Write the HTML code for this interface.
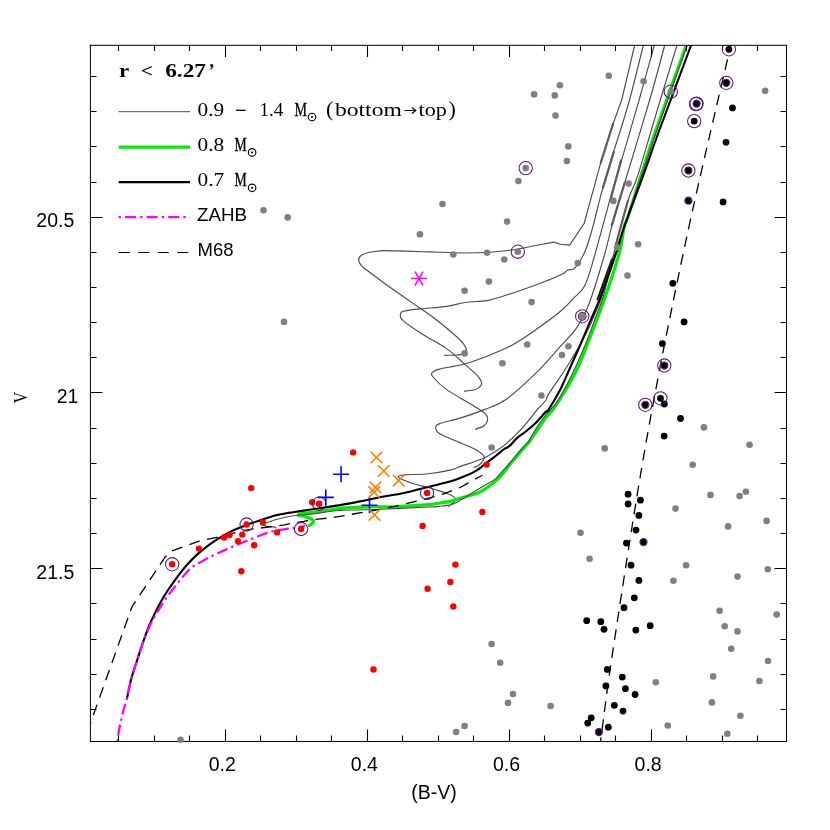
<!DOCTYPE html>
<html><head><meta charset="utf-8"><title>CMD</title>
<style>html,body{margin:0;padding:0;background:#fff;width:830px;height:830px;overflow:hidden}</style>
</head><body>
<svg width="830" height="830" viewBox="0 0 830 830" style="position:absolute;left:0;top:0;will-change:transform">
<defs><clipPath id="c"><rect x="90.5" y="45" width="696" height="696.5"/></clipPath></defs>
<rect width="830" height="830" fill="#fff"/>
<g clip-path="url(#c)">
<g fill="none" stroke="#4c4c4c" stroke-width="1.15" stroke-linejoin="round">
<path d="M444.2 355.4C446.2 355.3 452.8 355.2 456.0 355.0C459.2 354.8 461.7 354.6 463.5 353.9C465.3 353.2 466.6 352.7 466.6 351.0C466.6 349.3 465.6 346.6 463.5 343.8C461.4 341.0 458.7 338.4 453.9 334.2C449.1 330.0 441.8 323.9 434.6 318.5C427.4 313.1 418.5 307.2 410.5 301.6C402.5 296.0 393.1 289.7 386.4 284.8C379.6 279.9 374.0 275.5 370.0 272.5C366.0 269.5 364.2 268.7 362.3 266.7C360.4 264.7 359.0 262.2 358.7 260.4C358.4 258.6 359.3 257.2 360.5 256.0C361.7 254.8 363.6 253.9 366.0 253.2C368.4 252.4 372.0 251.9 375.0 251.5C378.0 251.1 379.8 250.7 384.0 250.6C388.2 250.5 393.6 250.7 400.0 250.9C406.4 251.1 415.8 251.5 422.5 251.7C429.2 251.9 432.9 252.0 440.0 252.2C447.1 252.4 456.7 253.0 465.0 253.0C473.3 253.0 482.2 252.7 490.0 252.2C497.8 251.7 504.0 251.2 512.0 250.0C520.0 248.8 531.2 246.3 538.2 245.0C545.2 243.7 551.3 242.6 553.9 242.1"/>
<path d="M464.0 391.3C465.5 391.1 470.7 390.5 473.0 390.0C475.3 389.5 476.6 389.5 478.0 388.4C479.4 387.3 481.6 385.6 481.6 383.6C481.6 381.6 481.0 379.7 478.0 376.3C475.0 372.9 468.7 367.7 463.5 363.1C458.3 358.5 453.4 353.4 446.6 348.6C439.8 343.8 429.7 338.8 422.5 334.2C415.3 329.6 407.0 324.1 403.3 320.9C399.6 317.7 400.4 316.5 400.4 314.9C400.4 313.3 400.0 312.3 403.3 311.3C406.6 310.3 412.9 309.7 420.1 308.9C427.3 308.1 439.1 307.5 446.6 306.4C454.1 305.3 458.1 303.5 465.0 302.5C471.9 301.5 480.3 301.9 488.2 300.4C496.1 298.8 504.3 295.8 512.3 293.2C520.3 290.6 528.4 287.8 536.4 284.8C544.4 281.8 555.2 277.6 560.5 275.1C565.8 272.6 565.6 271.2 568.0 270.0C570.4 268.8 572.1 270.9 574.9 267.9C577.7 264.9 581.8 258.5 584.6 252.2C587.5 245.9 589.0 240.7 592.0 230.0C595.0 219.3 599.2 200.8 602.8 187.8C606.4 174.8 611.0 159.8 613.4 152.1C615.8 144.4 614.2 150.2 616.9 141.5C619.6 132.8 625.1 116.1 629.5 100.0C633.9 83.9 641.1 54.2 643.4 45.0"/>
<path d="M475.0 429.3C476.5 428.7 481.9 427.3 484.0 425.7C486.1 424.1 487.4 421.7 487.6 419.7C487.8 417.7 488.0 416.3 485.2 413.7C482.4 411.1 477.1 408.0 470.7 404.0C464.3 400.0 452.8 394.0 446.6 389.6C440.4 385.2 435.8 380.3 433.4 377.5C431.0 374.7 431.2 374.1 432.2 372.7C433.2 371.3 434.2 370.5 439.4 369.1C444.6 367.7 455.4 366.5 463.5 364.3C471.6 362.1 480.1 359.0 488.2 355.8C496.3 352.6 504.3 349.4 512.3 345.0C520.3 340.6 528.4 334.9 536.4 329.3C544.4 323.7 554.5 316.3 560.5 311.3C566.5 306.3 568.5 303.4 572.5 299.2C576.5 295.0 581.0 293.0 584.6 286.0C588.2 279.0 590.1 270.9 594.2 257.0C598.3 243.1 604.7 218.3 609.2 202.3C613.7 186.3 616.4 177.9 621.4 160.8C626.4 143.8 633.6 119.3 639.1 100.0C644.6 80.7 651.8 54.2 654.3 45.0"/>
<path d="M473.5 467.5C474.2 467.2 476.3 466.8 477.7 465.9C479.1 465.0 480.8 463.6 481.9 462.3C483.0 461.0 484.1 459.3 484.3 458.1C484.5 456.9 484.2 456.3 483.1 455.1C482.0 453.9 480.2 452.3 477.7 450.8C475.2 449.3 472.1 447.8 468.1 446.0C464.1 444.2 458.3 442.1 453.6 440.0C448.9 437.9 442.8 435.8 439.8 433.7C436.8 431.6 435.7 429.4 435.7 427.7C435.7 426.0 435.7 425.2 439.8 423.6C443.9 422.0 452.8 420.4 460.2 418.1C467.6 415.8 476.7 412.7 484.3 409.6C491.9 406.5 497.3 405.6 506.0 399.5C514.7 393.4 527.3 381.6 536.4 372.7C545.5 363.8 553.7 353.8 560.5 346.2C567.3 338.6 572.5 334.1 577.3 326.9C582.1 319.7 585.0 314.4 589.4 302.8C593.8 291.2 600.1 269.9 603.9 257.0C607.7 244.1 608.6 237.7 612.1 225.4C615.6 213.1 618.3 203.9 624.6 183.0C630.9 162.1 643.0 123.0 649.7 100.0C656.4 77.0 662.3 54.2 664.8 45.0"/>
<path d="M448.1 506.6C448.4 506.3 449.0 505.8 450.0 505.0C451.0 504.2 453.3 503.0 454.2 502.0C455.1 501.0 455.5 499.9 455.4 499.0C455.3 498.1 454.5 497.3 453.6 496.6C452.7 495.9 450.8 495.2 450.0 494.8C449.2 494.4 450.3 494.8 448.7 494.2C447.1 493.6 443.6 492.2 440.2 491.1C436.8 490.0 432.2 488.6 428.2 487.5C424.2 486.4 420.1 485.7 416.1 484.5C412.1 483.3 407.1 481.6 404.1 480.3C401.1 479.0 398.1 477.6 398.1 476.7C398.1 475.8 399.1 475.4 404.1 474.9C409.1 474.4 420.6 474.5 428.2 473.7C435.8 472.9 444.4 471.4 450.0 470.1C455.6 468.8 458.0 467.3 462.0 465.9C466.0 464.5 470.1 463.2 474.1 461.7C478.1 460.2 482.1 458.9 486.1 456.9C490.1 454.9 495.2 451.5 498.2 449.6C501.2 447.7 502.2 447.0 504.2 445.4C506.2 443.8 508.6 441.4 510.2 440.0C511.8 438.6 511.1 439.5 513.5 437.0C515.9 434.5 521.0 429.5 524.8 425.1C528.6 420.7 532.9 414.8 536.4 410.6C539.9 406.4 544.0 402.7 546.0 400.0C548.0 397.3 544.8 400.1 548.4 394.4C552.0 388.6 561.7 375.1 567.7 365.5C573.7 355.9 579.8 345.9 584.6 336.6C589.4 327.4 592.6 320.1 596.6 310.0C600.6 299.9 605.5 287.3 608.7 276.3C611.9 265.3 612.8 256.8 616.0 244.2C619.2 231.6 624.4 212.0 627.9 200.8C631.4 189.6 633.3 189.0 637.2 177.2C641.1 165.4 647.5 142.9 651.4 130.0C655.2 117.1 656.0 114.2 660.3 100.0C664.6 85.8 674.2 54.2 677.0 45.0"/>
<polyline points="553.9,242.1 560.0,244.3 569.6,245.1 584.1,223.5 600.8,162.7 613.0,124.0 621.7,100.0 634.7,45.0"/>
</g>
<g fill="none" stroke="#5c5c5c" stroke-width="2.2" stroke-linecap="round">
<polyline points="613.0,124.0 600.8,162.7"/>
<polyline points="613.9,151.7 603.0,187.8"/>
<polyline points="621.1,160.4 610.2,200.8"/>
<polyline points="624.7,182.8 611.7,225.4"/>
<polyline points="627.9,200.8 616.0,244.2"/>
<polyline points="624.7,225.4 618.2,250.0"/>
</g>
<path d="M308.1 526.1C308.8 525.7 311.4 524.6 312.3 523.7C313.2 522.8 313.7 521.6 313.3 520.7C312.9 519.8 311.5 519.0 309.9 518.3C308.3 517.6 305.8 516.9 303.9 516.3C302.0 515.7 297.0 515.4 298.4 514.7C299.8 514.0 308.0 513.0 312.3 512.3C316.6 511.6 318.6 511.4 324.3 510.7C330.0 509.9 338.7 508.4 346.4 507.8C354.1 507.2 362.5 507.0 370.5 506.8C378.5 506.6 389.0 507.0 394.6 506.9C400.2 506.8 398.5 506.6 404.1 506.2C409.7 505.8 422.2 505.1 428.2 504.6C434.2 504.1 436.6 503.5 440.2 503.0C443.8 502.5 446.4 502.3 450.0 501.4C453.6 500.5 458.0 499.0 462.0 497.8C466.0 496.6 470.7 495.4 474.1 494.2C477.5 493.0 479.9 492.0 482.5 490.6C485.1 489.2 487.2 487.8 489.8 485.8C492.4 483.8 495.8 480.9 498.2 478.6C500.6 476.3 502.2 474.3 504.2 471.9C506.2 469.5 508.2 466.6 510.2 464.1C512.2 461.6 514.3 459.3 516.3 456.9C518.3 454.5 520.3 451.9 522.3 449.6C524.3 447.3 525.8 446.2 528.3 443.0C530.8 439.8 534.0 434.8 537.0 430.5C540.0 426.2 543.4 420.7 546.0 417.3C548.6 413.9 549.4 414.3 552.5 410.0C555.6 405.7 560.7 398.3 564.8 391.5C568.9 384.7 573.4 376.9 577.1 369.0C580.9 361.1 583.9 352.9 587.3 344.4C590.7 335.9 594.5 326.0 597.6 317.8C600.7 309.6 603.1 303.2 605.8 295.3C608.5 287.4 611.6 278.2 614.0 270.7C616.4 263.2 618.8 255.3 620.1 250.2C621.4 245.1 621.3 244.1 622.0 240.0C622.7 235.9 623.5 229.3 624.5 225.4C625.5 221.5 625.1 225.4 628.0 216.7C630.9 208.0 637.0 187.8 641.7 173.4C646.4 159.0 648.5 151.4 656.0 130.0C663.5 108.6 681.3 59.2 686.4 45.0" fill="none" stroke="#00ee00" stroke-width="3.2" stroke-linejoin="round"/>
<path d="M275.5 528.6C275.4 528.4 276.5 527.5 274.9 527.1C273.3 526.7 267.8 526.5 265.9 526.1C263.9 525.7 263.5 525.3 263.2 524.9C262.9 524.5 262.0 524.6 264.1 523.7C266.2 522.8 272.1 520.7 276.1 519.5C280.1 518.3 284.6 517.4 288.2 516.7C291.8 516.0 293.8 515.8 297.8 515.3C301.8 514.8 305.3 514.7 312.3 513.9C319.3 513.1 328.7 511.3 340.0 510.5C351.3 509.7 365.3 509.8 380.0 509.2C394.7 508.6 418.2 507.5 428.2 507.0C438.2 506.5 437.0 506.5 440.2 506.2C443.4 505.9 445.9 505.6 447.5 505.4C449.1 505.2 448.6 505.4 450.0 505.0C451.4 504.6 454.0 503.7 456.0 502.7C458.0 501.7 459.0 500.8 462.0 499.0C465.0 497.2 470.1 494.2 474.1 491.8C478.1 489.4 482.5 486.8 486.1 484.6C489.7 482.4 493.2 480.7 495.8 478.6C498.4 476.5 499.8 474.1 501.8 471.9C503.8 469.7 505.8 467.6 507.8 465.3C509.8 463.0 511.9 460.5 513.9 458.1C515.9 455.7 517.9 453.1 519.9 450.8C521.9 448.5 524.3 446.0 525.9 444.2C527.5 442.4 527.8 442.7 529.5 440.0C531.2 437.3 533.6 432.2 536.4 428.0C539.1 423.8 542.7 418.7 546.0 414.5C549.3 410.3 552.2 409.0 556.3 402.9C560.3 396.8 565.8 387.0 570.3 378.0C574.8 369.0 579.3 359.0 583.5 349.0C587.7 339.0 591.9 327.3 595.4 318.0C598.9 308.7 601.5 302.8 604.2 293.0C607.0 283.2 609.6 266.7 611.9 259.5C614.2 252.3 616.1 255.7 618.2 250.0C620.3 244.3 620.5 238.7 624.7 225.4C628.9 212.1 638.0 185.9 643.4 170.0C648.8 154.1 649.7 150.8 657.0 130.0C664.3 109.2 682.2 59.2 687.3 45.0" fill="none" stroke="#4c4c4c" stroke-width="1.15" stroke-linejoin="round"/>
<polyline points="90.1,724.1 132.0,606.7 165.3,556.8 171.5,551.1 198.4,541.4 224.9,535.4 247.2,529.8 256.3,528.6 284.6,524.9 294.2,522.8 303.9,521.3 313.5,519.5 323.1,518.6 333.4,517.5 346.4,515.2 370.5,511.0 394.6,506.4 404.1,504.2 423.4,499.6 441.4,494.8 460.1,487.5 476.4,478.5 482.4,475.2" fill="none" stroke="#000" stroke-width="1.3" stroke-dasharray="11 7.4" stroke-dashoffset="8.7"/>
<path d="M730.8 45.0C723.2 78.3 699.0 179.1 685.0 245.0C671.0 310.9 658.3 373.9 646.5 440.2C634.7 506.5 621.8 592.4 614.1 642.6C606.4 692.8 602.8 725.0 600.5 741.5" fill="none" stroke="#000" stroke-width="1.3" stroke-dasharray="10.7 7.45" stroke-dashoffset="3.35"/>
<path d="M127.0 698.3C127.7 695.2 129.4 685.9 131.1 679.5C132.8 673.1 134.9 667.0 137.1 660.2C139.3 653.4 142.1 644.8 144.3 638.6C146.5 632.5 147.2 629.9 150.2 623.3C153.2 616.7 158.3 606.2 162.3 599.2C166.3 592.2 170.3 586.7 174.3 581.1C178.3 575.5 182.4 570.1 186.4 565.5C190.4 560.9 194.4 557.0 198.4 553.4C202.4 549.8 206.5 546.7 210.5 543.8C214.5 540.9 218.5 538.4 222.5 536.1C226.5 533.8 230.6 531.6 234.6 529.8C238.6 527.9 243.7 526.1 246.6 525.0C249.5 523.9 249.1 524.1 252.0 523.1C254.9 522.1 260.1 520.2 264.1 518.9C268.1 517.6 272.1 516.3 276.1 515.3C280.1 514.3 284.2 513.6 288.2 512.9C292.2 512.2 296.2 511.7 300.2 511.1C304.2 510.5 308.3 509.9 312.3 509.3C316.3 508.7 319.7 508.2 324.3 507.5C328.9 506.8 334.1 506.1 340.0 505.1C345.9 504.1 353.3 502.7 360.0 501.4C366.7 500.1 372.6 498.6 380.0 497.2C387.4 495.8 396.1 494.7 404.1 493.0C412.1 491.3 420.6 488.8 428.2 486.9C435.8 485.0 444.4 483.2 450.0 481.6C455.6 480.0 458.0 478.9 462.0 477.3C466.0 475.7 470.9 473.6 474.1 471.9C477.3 470.2 479.3 468.6 481.3 467.1C483.3 465.6 484.3 464.3 486.1 462.9C487.9 461.5 490.2 460.2 492.2 458.7C494.2 457.2 496.2 455.5 498.2 453.9C500.2 452.3 502.6 450.1 504.2 449.0C505.8 447.9 506.6 448.0 507.8 447.2C509.0 446.4 510.2 445.4 511.4 444.2C512.6 443.0 514.1 441.1 515.1 440.0C516.1 438.9 515.6 439.1 517.5 437.6C519.4 436.1 523.6 433.4 526.7 430.8C529.9 428.2 533.2 425.4 536.4 422.2C539.6 419.0 544.0 413.6 546.0 411.6C548.0 409.6 546.0 413.7 548.4 410.0C550.8 406.3 556.6 396.7 560.3 389.5C564.0 382.3 567.0 374.5 570.4 367.0C573.8 359.5 577.1 352.2 580.5 344.4C583.9 336.5 587.6 327.4 590.8 319.9C594.0 312.4 596.8 306.6 599.6 299.4C602.4 292.2 605.4 283.5 607.8 276.9C610.2 270.2 612.3 264.6 614.0 259.5C615.7 254.4 616.9 249.9 618.1 246.1C619.3 242.3 619.4 241.4 621.0 236.5C622.6 231.6 624.1 227.2 627.9 216.7C631.7 206.2 638.8 187.8 644.0 173.4C649.2 159.0 651.5 151.4 659.4 130.0C667.3 108.6 685.9 59.2 691.2 45.0" fill="none" stroke="#000" stroke-width="2.1" stroke-linejoin="round"/>
<polyline id="mag" points="117.3,741.5 119.0,730.1 122.7,713.3 127.0,698.3 131.1,679.5 137.1,660.2 144.3,638.6 150.5,624.3 155.8,614.4 166.4,597.6 175.1,586.5 181.8,577.8 191.4,567.2 194.3,565.7 208.8,557.6 228.7,548.3 248.3,540.2 268.0,532.5 276.1,530.6 288.8,528.6 296.5,527.5 305.0,526.1" fill="none" stroke="#ff00ff" stroke-width="2.3" stroke-linejoin="round" stroke-dasharray="11.1 4 2.4 4.1" stroke-dashoffset="15.6"/>
<polyline points="611.9,259.5 597.6,299.4" fill="none" stroke="#1a1a1a" stroke-width="2.2" stroke-linecap="round"/>
</g>
<path d="M118.5 45.0v6M118.5 741.5v-6M154.5 45.0v6M154.5 741.5v-6M189.5 45.0v6M189.5 741.5v-6M225.5 45.0v12M225.5 741.5v-12M260.5 45.0v6M260.5 741.5v-6M296.5 45.0v6M296.5 741.5v-6M331.5 45.0v6M331.5 741.5v-6M367.5 45.0v12M367.5 741.5v-12M402.5 45.0v6M402.5 741.5v-6M438.5 45.0v6M438.5 741.5v-6M473.5 45.0v6M473.5 741.5v-6M509.5 45.0v12M509.5 741.5v-12M544.5 45.0v6M544.5 741.5v-6M580.5 45.0v6M580.5 741.5v-6M615.5 45.0v6M615.5 741.5v-6M651.5 45.0v12M651.5 741.5v-12M686.5 45.0v6M686.5 741.5v-6M722.5 45.0v6M722.5 741.5v-6M757.5 45.0v6M757.5 741.5v-6M90.5 76.5h6M786.5 76.5h-6M90.5 111.5h6M786.5 111.5h-6M90.5 146.5h6M786.5 146.5h-6M90.5 182.5h6M786.5 182.5h-6M90.5 217.5h12M786.5 217.5h-12M90.5 252.5h6M786.5 252.5h-6M90.5 287.5h6M786.5 287.5h-6M90.5 322.5h6M786.5 322.5h-6M90.5 357.5h6M786.5 357.5h-6M90.5 392.5h12M786.5 392.5h-12M90.5 428.5h6M786.5 428.5h-6M90.5 463.5h6M786.5 463.5h-6M90.5 498.5h6M786.5 498.5h-6M90.5 533.5h6M786.5 533.5h-6M90.5 568.5h12M786.5 568.5h-12M90.5 603.5h6M786.5 603.5h-6M90.5 639.5h6M786.5 639.5h-6M90.5 674.5h6M786.5 674.5h-6M90.5 709.5h6M786.5 709.5h-6" stroke="#000" stroke-width="1.1" fill="none"/>
<path d="M90.4 44.8V742M89.9 45.3H787M786.5 44.8V742M89.9 741.5H787" fill="none" stroke="#000" stroke-width="1"/>
<g fill="#808080">
<circle cx="263.5" cy="210.3" r="3.3"/>
<circle cx="287.7" cy="217.4" r="3.3"/>
<circle cx="442.5" cy="204" r="3.3"/>
<circle cx="419.9" cy="234.4" r="3.3"/>
<circle cx="608.8" cy="75.8" r="3.3"/>
<circle cx="559.9" cy="85.2" r="3.3"/>
<circle cx="534.1" cy="94.4" r="3.3"/>
<circle cx="554.8" cy="95.4" r="3.3"/>
<circle cx="643.6" cy="81.2" r="3.3"/>
<circle cx="670.8" cy="91.7" r="3.3"/>
<circle cx="555.5" cy="115.6" r="3.3"/>
<circle cx="568.3" cy="146.4" r="3.3"/>
<circle cx="566.9" cy="161.1" r="3.3"/>
<circle cx="525.7" cy="168.1" r="3.3"/>
<circle cx="518.4" cy="181.1" r="3.3"/>
<circle cx="628.6" cy="183.6" r="3.3"/>
<circle cx="613.4" cy="200.9" r="3.3"/>
<circle cx="507.1" cy="221.6" r="3.3"/>
<circle cx="638.1" cy="244.3" r="3.3"/>
<circle cx="765.1" cy="90.8" r="3.3"/>
<circle cx="284" cy="321.9" r="3.3"/>
<circle cx="453.3" cy="254.6" r="3.3"/>
<circle cx="487" cy="252.7" r="3.3"/>
<circle cx="517.8" cy="251.7" r="3.3"/>
<circle cx="504.3" cy="259.5" r="3.3"/>
<circle cx="577.8" cy="263.1" r="3.3"/>
<circle cx="488.9" cy="281.6" r="3.3"/>
<circle cx="464.6" cy="290.8" r="3.3"/>
<circle cx="531.6" cy="302.1" r="3.3"/>
<circle cx="582.2" cy="316.3" r="3.3"/>
<circle cx="627.5" cy="275.6" r="3.3"/>
<circle cx="617.1" cy="247.4" r="3.3"/>
<circle cx="527.2" cy="344.5" r="3.3"/>
<circle cx="568.4" cy="346.2" r="3.3"/>
<circle cx="561.9" cy="355.1" r="3.3"/>
<circle cx="502.4" cy="363.3" r="3.3"/>
<circle cx="464.6" cy="353.4" r="3.3"/>
<circle cx="541.4" cy="395.6" r="3.3"/>
<circle cx="703.9" cy="427.4" r="3.3"/>
<circle cx="749.6" cy="444.7" r="3.3"/>
<circle cx="491.6" cy="447.5" r="3.3"/>
<circle cx="580.5" cy="532.8" r="3.3"/>
<circle cx="589.6" cy="558.8" r="3.3"/>
<circle cx="604.7" cy="448.4" r="3.3"/>
<circle cx="692.7" cy="464.8" r="3.3"/>
<circle cx="710.5" cy="494.9" r="3.3"/>
<circle cx="739.6" cy="496.1" r="3.3"/>
<circle cx="745.9" cy="491.7" r="3.3"/>
<circle cx="675.5" cy="508.6" r="3.3"/>
<circle cx="728.1" cy="526.4" r="3.3"/>
<circle cx="766.6" cy="520.9" r="3.3"/>
<circle cx="686.1" cy="565.2" r="3.3"/>
<circle cx="673.4" cy="580.7" r="3.3"/>
<circle cx="737.5" cy="576.6" r="3.3"/>
<circle cx="767.8" cy="569.3" r="3.3"/>
<circle cx="719.6" cy="610.8" r="3.3"/>
<circle cx="776.7" cy="614.6" r="3.3"/>
<circle cx="724.7" cy="626.2" r="3.3"/>
<circle cx="737.5" cy="631.4" r="3.3"/>
<circle cx="731.2" cy="648.7" r="3.3"/>
<circle cx="768.1" cy="661" r="3.3"/>
<circle cx="713.1" cy="676.4" r="3.3"/>
<circle cx="759.4" cy="681" r="3.3"/>
<circle cx="655.8" cy="682.2" r="3.3"/>
<circle cx="711.9" cy="702.4" r="3.3"/>
<circle cx="740.4" cy="715.7" r="3.3"/>
<circle cx="667.8" cy="725.5" r="3.3"/>
<circle cx="727.3" cy="733.7" r="3.3"/>
<circle cx="491.6" cy="644.1" r="3.3"/>
<circle cx="500.2" cy="662.7" r="3.3"/>
<circle cx="513" cy="694" r="3.3"/>
<circle cx="508" cy="702.9" r="3.3"/>
<circle cx="550.6" cy="706" r="3.3"/>
<circle cx="464.6" cy="726" r="3.3"/>
<circle cx="456.1" cy="732" r="3.3"/>
<circle cx="180.5" cy="739.8" r="3.3"/>
</g><g fill="#000">
<circle cx="728.9" cy="49.3" r="3.4"/>
<circle cx="726.3" cy="82.8" r="3.4"/>
<circle cx="696.6" cy="103.6" r="3.4"/>
<circle cx="694.2" cy="121.1" r="3.4"/>
<circle cx="732.5" cy="107.9" r="3.4"/>
<circle cx="726" cy="142.3" r="3.4"/>
<circle cx="688.4" cy="170.5" r="3.4"/>
<circle cx="688.4" cy="200.7" r="3.4"/>
<circle cx="723.1" cy="201.9" r="3.4"/>
<circle cx="672.8" cy="283.3" r="3.4"/>
<circle cx="684.1" cy="321.9" r="3.4"/>
<circle cx="662.4" cy="343.6" r="3.4"/>
<circle cx="664.3" cy="365.5" r="3.4"/>
<circle cx="660.5" cy="398.3" r="3.4"/>
<circle cx="664.3" cy="404" r="3.4"/>
<circle cx="645.3" cy="404.8" r="3.4"/>
<circle cx="680.5" cy="418.5" r="3.4"/>
<circle cx="664.1" cy="436.1" r="3.4"/>
<circle cx="628.1" cy="494.2" r="3.4"/>
<circle cx="640.4" cy="500.2" r="3.4"/>
<circle cx="628.1" cy="504" r="3.4"/>
<circle cx="638.9" cy="515.4" r="3.4"/>
<circle cx="636" cy="530.1" r="3.4"/>
<circle cx="626.4" cy="543.1" r="3.4"/>
<circle cx="643.5" cy="542.1" r="3.4"/>
<circle cx="631" cy="565.2" r="3.4"/>
<circle cx="638.9" cy="580.4" r="3.4"/>
<circle cx="634.3" cy="597.8" r="3.4"/>
<circle cx="624" cy="607.7" r="3.4"/>
<circle cx="600.8" cy="621.7" r="3.4"/>
<circle cx="604" cy="629.3" r="3.4"/>
<circle cx="635.8" cy="630.1" r="3.4"/>
<circle cx="650.2" cy="625.7" r="3.4"/>
<circle cx="607.3" cy="669.4" r="3.4"/>
<circle cx="622.3" cy="677.1" r="3.4"/>
<circle cx="605.9" cy="686" r="3.4"/>
<circle cx="625.4" cy="688.7" r="3.4"/>
<circle cx="635.1" cy="694.5" r="3.4"/>
<circle cx="614.3" cy="705.3" r="3.4"/>
<circle cx="623" cy="711.1" r="3.4"/>
<circle cx="591.2" cy="717.8" r="3.4"/>
<circle cx="608.3" cy="727.2" r="3.4"/>
<circle cx="598.9" cy="732" r="3.4"/>
<circle cx="586.7" cy="620.7" r="3.4"/>
<circle cx="587.7" cy="723.1" r="3.4"/>
</g><g fill="#ff0000">
<circle cx="251.2" cy="488.1" r="3.2"/>
<circle cx="246.6" cy="524.5" r="3.2"/>
<circle cx="262.9" cy="522.5" r="3.2"/>
<circle cx="277.1" cy="532.4" r="3.2"/>
<circle cx="229.5" cy="535.1" r="3.2"/>
<circle cx="224" cy="537.5" r="3.2"/>
<circle cx="242.3" cy="534.6" r="3.2"/>
<circle cx="238" cy="541.1" r="3.2"/>
<circle cx="254.2" cy="545.3" r="3.2"/>
<circle cx="198.9" cy="548.6" r="3.2"/>
<circle cx="172.2" cy="564.3" r="3.2"/>
<circle cx="241.3" cy="571.3" r="3.2"/>
<circle cx="353.1" cy="452.4" r="3.2"/>
<circle cx="312.2" cy="502.3" r="3.2"/>
<circle cx="319.2" cy="503.7" r="3.2"/>
<circle cx="301.1" cy="529" r="3.2"/>
<circle cx="427.1" cy="492.9" r="3.2"/>
<circle cx="422.6" cy="526" r="3.2"/>
<circle cx="427.6" cy="588.8" r="3.2"/>
<circle cx="450.4" cy="581.9" r="3.2"/>
<circle cx="486.7" cy="464.6" r="3.2"/>
<circle cx="482.4" cy="512" r="3.2"/>
<circle cx="455.4" cy="564.6" r="3.2"/>
<circle cx="453.3" cy="606.5" r="3.2"/>
<circle cx="373.5" cy="669.5" r="3.2"/>
</g>
<g fill="none" stroke="#5a1a72" stroke-width="1.05" clip-path="url(#c)">
<circle cx="670.8" cy="91.7" r="6.65"/>
<circle cx="525.7" cy="168.1" r="6.65"/>
<circle cx="517.8" cy="251.7" r="6.65"/>
<circle cx="582.2" cy="316.3" r="6.65"/>
<circle cx="728.9" cy="49.3" r="6.65"/>
<circle cx="726.3" cy="82.8" r="6.65"/>
<circle cx="696.6" cy="103.6" r="6.65"/>
<circle cx="696.0" cy="104.1" r="6.65"/>
<circle cx="694.2" cy="121.1" r="6.65"/>
<circle cx="688.4" cy="170.5" r="6.65"/>
<circle cx="664.3" cy="365.5" r="6.65"/>
<circle cx="660.5" cy="398.3" r="6.65"/>
<circle cx="645.3" cy="404.8" r="6.65"/>
<circle cx="246.6" cy="524.5" r="6.65"/>
<circle cx="172.2" cy="564.3" r="6.65"/>
<circle cx="319.2" cy="503.7" r="6.65"/>
<circle cx="301.1" cy="529" r="6.65"/>
<circle cx="427.1" cy="492.9" r="6.65"/>
<circle cx="582.2" cy="316.3" r="3.9"/>
<circle cx="688.4" cy="200.7" r="3.6"/>
<circle cx="643.5" cy="542.1" r="3.6"/>
<circle cx="598.9" cy="732" r="3.6"/>
<circle cx="726.3" cy="82.8" r="3.6"/>
<circle cx="696.6" cy="103.6" r="3.6"/>
<circle cx="688.4" cy="170.5" r="3.6"/>
<circle cx="664.3" cy="365.5" r="3.6"/>
<circle cx="645.3" cy="404.8" r="3.6"/>
</g>
<g stroke="#0000ff" stroke-width="1.6" fill="none">
<path d="M333.1 474.3H349.1M341.1 466.3V482.3"/>
<path d="M317.8 497.4H333.8M325.8 489.4V505.4"/>
<path d="M361.5 505.2H377.5M369.5 497.2V513.2"/>
</g>
<g stroke="#ff7f00" stroke-width="1.6" fill="none">
<path d="M370.7 451.7L382.3 463.3M370.7 463.3L382.3 451.7"/>
<path d="M377.9 465.2L389.5 476.8M377.9 476.8L389.5 465.2"/>
<path d="M392.9 474.8L404.5 486.4M392.9 486.4L404.5 474.8"/>
<path d="M369.7 481.5L381.3 493.1M369.7 493.1L381.3 481.5"/>
<path d="M368.3 486.4L379.9 498.0M368.3 498.0L379.9 486.4"/>
<path d="M368.8 509.0L380.4 520.6M368.8 520.6L380.4 509.0"/>
</g>
<path d="M411.0 278.6L427.0 278.6M415.0 271.7L423.0 285.5M423.0 271.7L415.0 285.5" stroke="#ff00ff" stroke-width="1.5" fill="none"/>
<path d="M118.5 111.7H190" stroke="#4a4a4a" stroke-width="1"/>
<path d="M118.7 147.2H190" stroke="#00ee00" stroke-width="3.3"/>
<path d="M118.7 182.1H190" stroke="#000" stroke-width="2.1"/>
<path d="M118.5 217.2H190" stroke="#ff00ff" stroke-width="2.3" stroke-dasharray="2.4 4.1 11.1 4"/>
<path d="M118.7 252.5H190" stroke="#000" stroke-width="1.2" stroke-dasharray="11.1 8.4"/>
<g font-family="Liberation Sans, sans-serif" font-size="19.5" fill="#000">
<text x="208.7" y="770.8">0.2</text>
<text x="350.8" y="770.8">0.4</text>
<text x="493.0" y="770.8">0.6</text>
<text x="634.6" y="770.8">0.8</text>
<text x="36.3" y="227">20.5</text>
<text x="56.7" y="402.5">21</text>
<text x="36.3" y="578.9">21.5</text>
<text x="411.2" y="799">(B-V)</text>
<text x="197.1" y="221.1" font-size="18.7">ZAHB</text>
<text x="197.6" y="255.6" font-size="18.5">M68</text>
</g>
<text transform="translate(27.2,403.3) rotate(-90) scale(0.8,1)" font-family="Liberation Serif, serif" font-size="19.6">V</text>
<text x="119.0" y="77.2" font-weight="bold" font-family="Liberation Serif, serif" font-size="19.5" textLength="10.2" lengthAdjust="spacingAndGlyphs">r</text>
<text x="140.8" y="77.2" font-weight="bold" font-family="Liberation Serif, serif" font-size="19" textLength="12.2" lengthAdjust="spacingAndGlyphs">&lt;</text>
<text x="165.2" y="77.2" font-weight="bold" font-family="Liberation Serif, serif" font-size="18.2" textLength="40.8" lengthAdjust="spacingAndGlyphs">6.27</text>
<text x="208.6" y="77.2" font-weight="bold" font-family="Liberation Serif, serif" font-size="18.2" textLength="6.2" lengthAdjust="spacingAndGlyphs">’</text>
<text x="197.6" y="115.6" font-family="Liberation Serif, serif" font-size="18.2" textLength="26.6" lengthAdjust="spacingAndGlyphs">0.9</text>
<path d="M235.9 110.3H245.6" stroke="#000" stroke-width="1.3"/>
<text x="259.5" y="115.6" font-family="Liberation Serif, serif" font-size="18.2" textLength="23.8" lengthAdjust="spacingAndGlyphs">1.4</text>
<text stroke="#000" stroke-width="0.3" x="294.4" y="115.6" font-family="Liberation Serif, serif" font-size="18.2" textLength="12.5" lengthAdjust="spacingAndGlyphs">M</text>
<text x="326.0" y="116.0" font-family="Liberation Serif, serif" font-size="20" textLength="7.4" lengthAdjust="spacingAndGlyphs">(</text>
<text x="335.0" y="115.6" font-family="Liberation Serif, serif" font-size="18.6" textLength="66.8" lengthAdjust="spacingAndGlyphs">bottom</text>
<path d="M404.5 110.5H415.5M412 107.5L415.8 110.5L412 113.5" stroke="#000" stroke-width="1.2" fill="none"/>
<text x="418.5" y="115.6" font-family="Liberation Serif, serif" font-size="18.6" textLength="28.3" lengthAdjust="spacingAndGlyphs">top</text>
<text x="448.4" y="116.0" font-family="Liberation Serif, serif" font-size="20" textLength="7.4" lengthAdjust="spacingAndGlyphs">)</text>
<text x="197.6" y="150.6" font-family="Liberation Serif, serif" font-size="18.2" textLength="26.6" lengthAdjust="spacingAndGlyphs">0.8</text>
<text stroke="#000" stroke-width="0.3" x="234.5" y="150.6" font-family="Liberation Serif, serif" font-size="18.2" textLength="12.2" lengthAdjust="spacingAndGlyphs">M</text>
<text x="197.6" y="185.6" font-family="Liberation Serif, serif" font-size="18.2" textLength="26.6" lengthAdjust="spacingAndGlyphs">0.7</text>
<text stroke="#000" stroke-width="0.3" x="234.5" y="185.6" font-family="Liberation Serif, serif" font-size="18.2" textLength="12.2" lengthAdjust="spacingAndGlyphs">M</text>
<circle cx="312" cy="117" r="3.75" fill="none" stroke="#000" stroke-width="1.15"/><circle cx="312" cy="117" r="1" fill="#000"/>
<circle cx="252.1" cy="152.4" r="3.75" fill="none" stroke="#000" stroke-width="1.15"/><circle cx="252.1" cy="152.4" r="1" fill="#000"/>
<circle cx="252.1" cy="187.8" r="3.75" fill="none" stroke="#000" stroke-width="1.15"/><circle cx="252.1" cy="187.8" r="1" fill="#000"/>
</svg>
</body></html>
